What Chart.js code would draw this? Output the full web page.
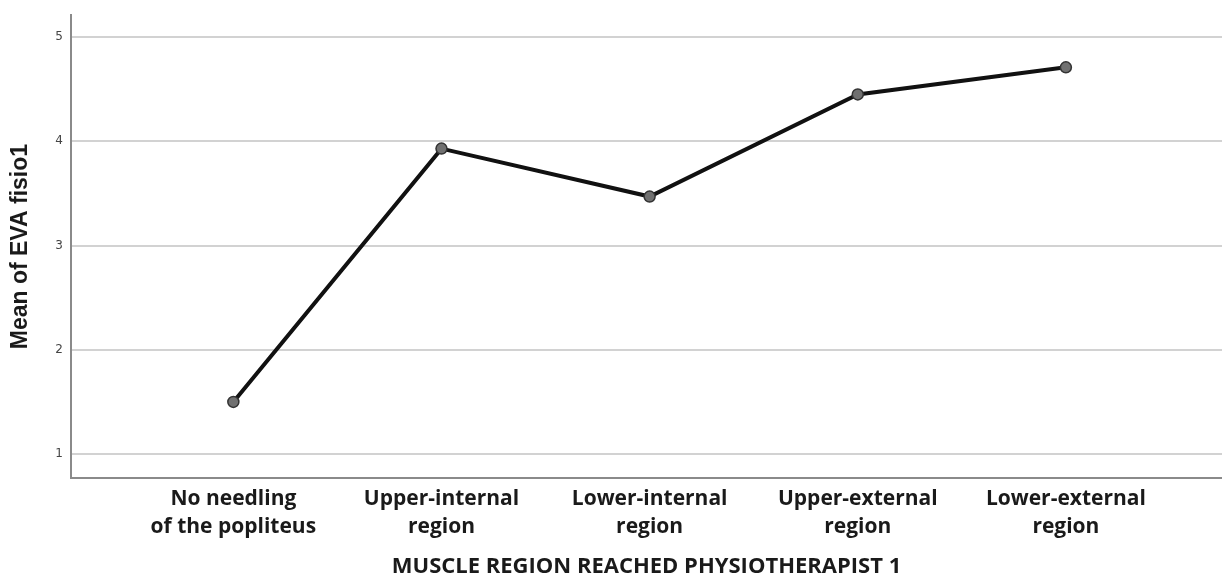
<!DOCTYPE html>
<html>
<head>
<meta charset="utf-8">
<script src="https://cdn.jsdelivr.net/npm/chart.js@4"></script>
<style>
  body { margin: 0; background: #fff; }
  canvas { display: block; }
</style>
</head>
<body>
<canvas id="meanChart" width="1222" height="582"></canvas>
<script>
// categories and means
const regions = [
    ['No needling', 'of the popliteus'],
    ['Upper-internal', 'region'],
    ['Lower-internal', 'region'],
    ['Upper-external', 'region'],
    ['Lower-external', 'region']
];
const meanEva = [1.50, 3.93, 3.47, 4.45, 4.71];
const yTicks = [1, 2, 3, 4, 5];

const points = meanEva.map((v, i) => ({ x: i, y: v }));

new Chart(document.getElementById('meanChart'), {
    type: 'line',
    data: {
        datasets: [{
            data: points,
            borderColor: '#111',
            borderWidth: 4,
            pointRadius: 5.5,
            pointBackgroundColor: '#707070',
            pointBorderColor: '#333',
            pointBorderWidth: 1.5,
            tension: 0
        }]
    },
    options: {
        responsive: false,
        devicePixelRatio: 1,
        animation: false,
        layout: { autoPadding: false, padding: { top: 12, right: 0, left: 0, bottom: 0 } },
        plugins: { legend: { display: false }, tooltip: { enabled: false } },
        scales: {
            x: {
                type: 'linear',
                min: -0.78,
                max: 4.75,
                afterBuildTicks: (scale) => {
                    scale.ticks = regions.map((r, i) => ({ value: i }));
                },
                afterFit: (scale) => { scale.height = 104; },
                grid: { display: false, drawTicks: false },
                border: { color: '#8a8a8a', width: 2 },
                ticks: {
                    maxRotation: 0,
                    autoSkip: false,
                    padding: 7,
                    color: '#1a1a1a',
                    font: { family: 'Open Sans', size: 21, weight: 'bold', lineHeight: 1.33 },
                    callback: (value) => regions[value]
                },
                title: {
                    display: true,
                    text: 'MUSCLE REGION REACHED PHYSIOTHERAPIST 1',
                    color: '#1a1a1a',
                    font: { family: 'Open Sans', size: 22, weight: 'bold' },
                    padding: { top: 0, bottom: 2 }
                }
            },
            y: {
                min: 0.77,
                max: 5.21,
                afterBuildTicks: (scale) => {
                    scale.ticks = yTicks.map(v => ({ value: v }));
                },
                afterFit: (scale) => { scale.width = 71; },
                grid: { color: '#d2d2d2', lineWidth: 2, drawTicks: false },
                border: { color: '#8a8a8a', width: 2 },
                ticks: {
                    padding: 8,
                    color: '#444',
                    font: { family: 'DejaVu Sans', size: 12 }
                },
                title: {
                    display: true,
                    text: 'Mean of EVA fisio1',
                    color: '#1a1a1a',
                    font: { family: 'Liberation Sans', size: 23, weight: 'bold' },
                    padding: { top: 7, bottom: 0 }
                }
            }
        }
    }
});
</script>
</body>
</html>
